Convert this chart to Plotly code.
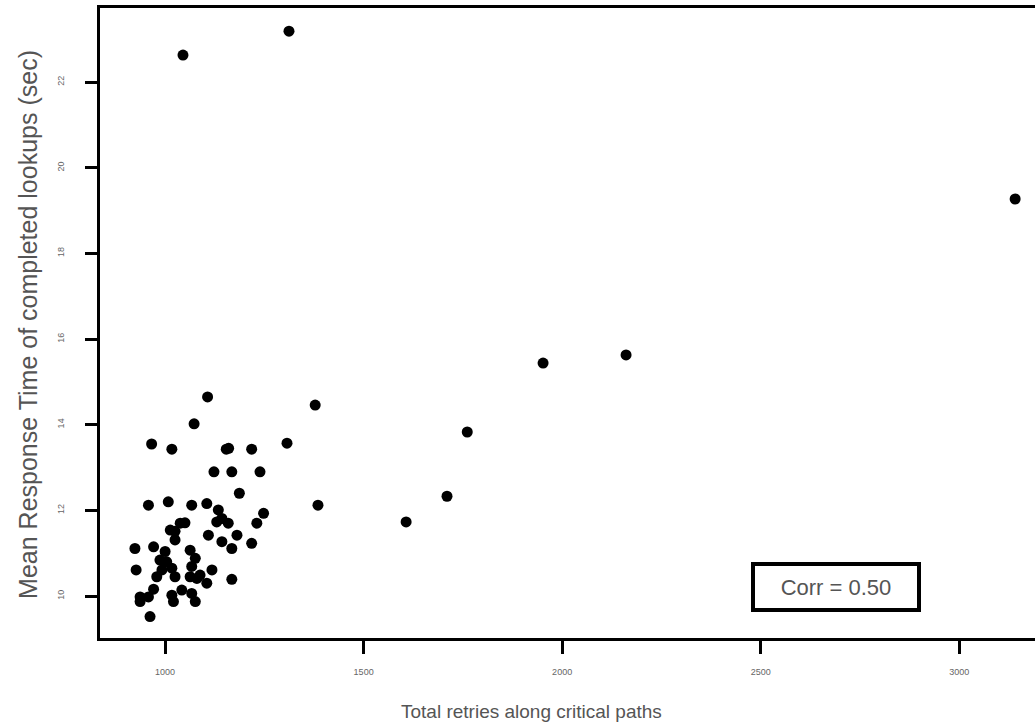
import plotly.graph_objects as go

# Data
retries = [1045, 1312, 3141, 1952, 2161, 1761, 1378, 1710, 1607, 1385, 1307,
           1107, 1073, 966, 1017, 1154, 1218, 1123, 1168, 1239, 1187,
           958, 1008, 1067, 1105, 1134, 1143, 1159, 1248, 1231, 1050, 1025,
           1109, 1181, 1143, 1168, 1218, 1025, 924, 971, 1000, 1063, 1076,
           1004, 1017, 1067, 1118, 927, 979, 1025, 1080, 1105, 1168, 971,
           937, 958, 1017, 1042, 1067, 1076, 1021, 937, 962, 987, 992, 1063,
           1013, 1038, 1130, 1088, 1160]
resp_time = [22.63, 23.19, 19.27, 15.44, 15.63, 13.83, 14.46, 12.33, 11.73, 12.12, 13.57,
             14.65, 14.02, 13.55, 13.43, 13.43, 13.43, 12.90, 12.90, 12.90, 12.40,
             12.12, 12.20, 12.12, 12.16, 12.01, 11.81, 11.70, 11.93, 11.70, 11.71, 11.51,
             11.42, 11.42, 11.27, 11.11, 11.23, 11.31, 11.11, 11.15, 11.04, 11.07, 10.88,
             10.80, 10.65, 10.69, 10.61, 10.61, 10.45, 10.45, 10.41, 10.30, 10.39, 10.16,
             9.98, 9.98, 10.02, 10.14, 10.06, 9.87, 9.87, 9.87, 9.52, 10.84, 10.61, 10.45,
             11.54, 11.70, 11.73, 10.49, 13.45]

x_ticks = [1000, 1500, 2000, 2500, 3000]
x_tick_labels = ["1000", "1500", "2000", "2500", "3000"]
y_ticks = [10, 12, 14, 16, 18, 20, 22]
y_tick_labels = ["10", "12", "14", "16", "18", "20", "22"]
x_title = "Total retries along critical paths"
y_title = "Mean Response Time of completed lookups (sec)"
corr_text = "Corr = 0.50"

fig = go.Figure()
fig.add_trace(go.Scatter(
    x=retries, y=resp_time, mode="markers",
    marker=dict(color="black", size=11, symbol="circle", line=dict(width=0)),
    showlegend=False,
))

font_family = "Liberation Sans, Arial, sans-serif"

fig.update_layout(
    width=1035, height=724,
    margin=dict(l=100, r=0, t=8, b=86),
    paper_bgcolor="white", plot_bgcolor="white",
    font=dict(family=font_family, color="#555555"),
    xaxis=dict(
        range=[836, 3191], showgrid=False, zeroline=False,
        showline=True, linecolor="black", linewidth=3, mirror=True,
        ticks="outside", ticklen=13, tickwidth=3, tickcolor="black",
        tickvals=x_ticks, ticktext=x_tick_labels,
        tickfont=dict(size=9, color="#666666"), ticklabelstandoff=10,
    ),
    yaxis=dict(
        range=[9.02, 23.73], showgrid=False, zeroline=False,
        showline=True, linecolor="black", linewidth=3,
        ticks="outside", ticklen=12, tickwidth=3, tickcolor="black",
        tickvals=y_ticks, ticktext=y_tick_labels, tickangle=-90,
        tickfont=dict(size=9, color="#666666"), ticklabelstandoff=17,
    ),
    annotations=[
        dict(x=0.462, y=-0.117, xref="paper", yref="paper",
             xanchor="center", yanchor="middle",
             text=x_title, showarrow=False,
             font=dict(size=19, color="#555555", family=font_family)),
        dict(x=-0.077, y=0.497, xref="paper", yref="paper",
             xanchor="center", yanchor="middle", textangle=-90,
             text=y_title, showarrow=False,
             font=dict(size=25, color="#555555", family=font_family)),
        dict(x=0.787, y=0.081, xref="paper", yref="paper",
             xanchor="center", yanchor="middle",
             text=corr_text, showarrow=False,
             font=dict(size=22, color="#555555", family=font_family),
             bordercolor="black", borderwidth=4, borderpad=1,
             bgcolor="white", width=160, height=40),
    ],
)

fig.write_html("out.html")
